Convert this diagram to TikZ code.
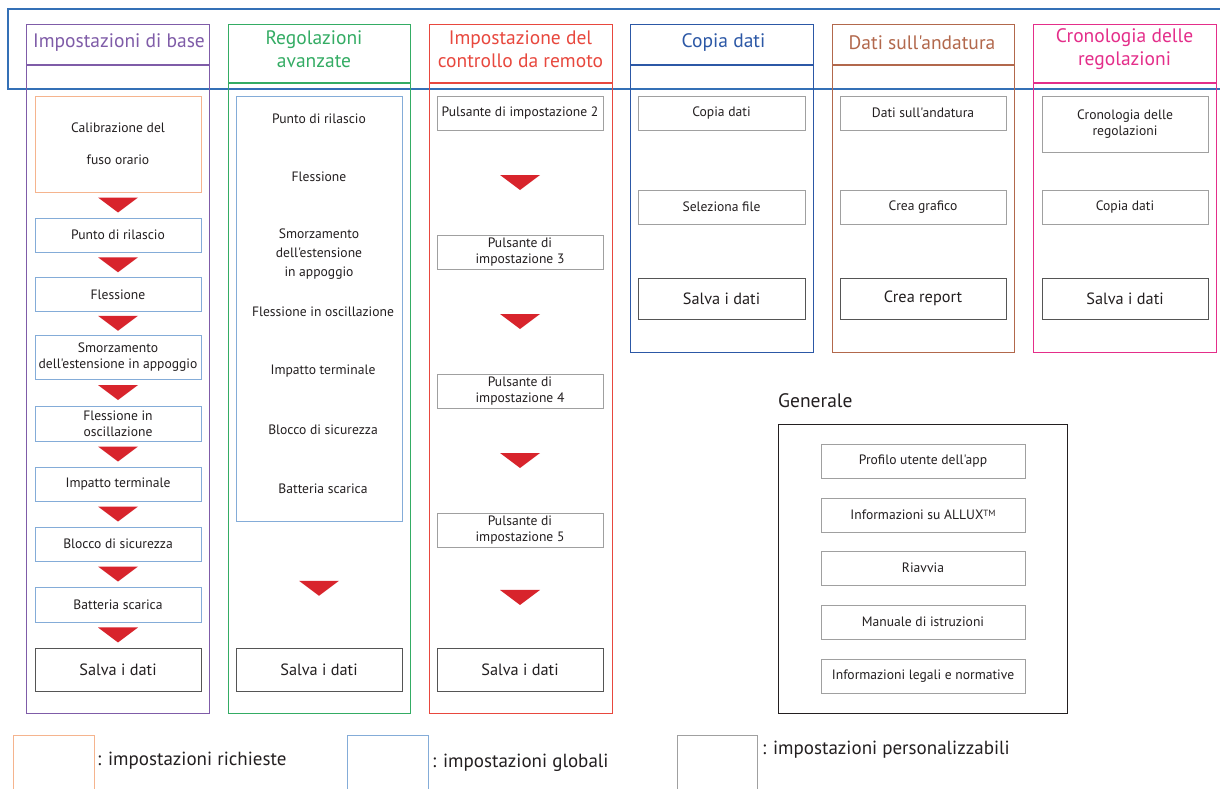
\documentclass[tikz,border=0pt]{standalone}
\usepackage{fontspec}
\setmainfont{PT Sans}[Ligatures=TeXOff]
\usetikzlibrary{calc}
\definecolor{cpurple}{RGB}{127,92,168}
\definecolor{cgreen}{RGB}{52,172,100}
\definecolor{cred}{RGB}{232,72,62}
\definecolor{cdblue}{RGB}{44,88,166}
\definecolor{cbrown}{RGB}{178,104,76}
\definecolor{cmag}{RGB}{228,46,138}
\definecolor{ctop}{RGB}{52,112,182}
\definecolor{corange}{RGB}{245,180,142}
\definecolor{clblue}{RGB}{132,172,216}
\definecolor{cgray}{RGB}{160,160,160}
\definecolor{cdark}{RGB}{85,85,85}
\definecolor{carrow}{RGB}{216,36,44}
\definecolor{ctext}{RGB}{35,31,32}
\tikzset{
  col/.style={draw=#1, line width=1.3pt, anchor=north west, inner sep=0pt},
  ttl/.style={text=#1, align=center, font=\fontsize{19.5}{23}\selectfont},
  ibox/.style={draw=#1, line width=0.9pt, inner sep=0pt, align=center, text=ctext,
     minimum width=166pt, minimum height=34pt, font=\fontsize{13.6}{16}\selectfont},
  sbox/.style={draw=cdark, line width=1pt, inner sep=0pt, align=center, text=ctext,
     minimum width=166pt, minimum height=43pt, font=\fontsize{16.3}{20}\selectfont},
  itxt/.style={align=center, text=ctext, font=\fontsize{13.6}{19}\selectfont},
  legtxt/.style={anchor=west, text=ctext, font=\fontsize{19}{22}\selectfont},
  downtri/.pic={\fill[carrow] (-20,-7.5) -- (20,-7.5) -- (0,7.5) -- cycle;}
}
\begin{document}
\begin{tikzpicture}[x=1pt,y=-1pt]
\useasboundingbox (0,0) rectangle (1220,789);
\fill[white] (0,0) rectangle (1220,789);
% top band
\draw[ctop, line width=1.2pt] (8,9) rectangle (1240,89);
% columns
\node[col=cpurple, minimum width=183pt, minimum height=689pt] (c1) at (26,24) {};
\node[col=cgreen,  minimum width=182pt, minimum height=689pt] (c2) at (228,24) {};
\node[col=cred,    minimum width=183pt, minimum height=689pt] (c3) at (429,24) {};
\node[col=cdblue,  minimum width=183pt, minimum height=328pt] (c4) at (630,24) {};
\node[col=cbrown,  minimum width=182pt, minimum height=328pt] (c5) at (832,24) {};
\node[col=cmag,    minimum width=183pt, minimum height=328pt] (c6) at (1033,24) {};
\draw[cpurple, line width=1.3pt] (c1.west |- 0,65) -- (c1.east |- 0,65);
\draw[cgreen, line width=1.3pt] (c2.west |- 0,83) -- (c2.east |- 0,83);
\draw[cred, line width=1.3pt] (c3.west |- 0,83) -- (c3.east |- 0,83);
\draw[cdblue, line width=1.3pt] (c4.west |- 0,65) -- (c4.east |- 0,65);
\draw[cbrown, line width=1.3pt] (c5.west |- 0,65) -- (c5.east |- 0,65);
\draw[cmag, line width=1.3pt] (c6.west |- 0,83) -- (c6.east |- 0,83);
% titles
\node[ttl=cpurple] (t1) at (119,43) {Impostazioni di base};
\node[ttl=cgreen] (t2) at (314,49.5) {Regolazioni\\avanzate};
\node[ttl=cred] (t3) at (520.5,49.5) {Impostazione del\\controllo da remoto};
\node[ttl=cdblue] (t4) at (723.5,43) {Copia dati};
\node[ttl=cbrown] (t5) at (922,43) {Dati sull'andatura};
\node[ttl=cmag] (t6) at (1124.5,49.5) {Cronologia delle\\regolazioni};
% column 1
\node[ibox=corange, minimum height=96pt, font=\fontsize{13.6}{32}\selectfont] (a0) at (118,144) {Calibrazione del\\fuso orario};
\node[ibox=clblue] (a1) at (118,235) {Punto di rilascio};
\node[ibox=clblue] (a2) at (118,294.5) {Flessione};
\node[ibox=clblue, minimum height=44pt] (a3) at (118,357) {Smorzamento\\dell'estensione in appoggio};
\node[ibox=clblue, minimum height=35pt] (a4) at (118,423.5) {Flessione in\\oscillazione};
\node[ibox=clblue] (a5) at (118,484) {Impatto terminale};
\node[ibox=clblue] (a6) at (118,544) {Blocco di sicurezza};
\node[ibox=clblue, minimum height=35pt] (a7) at (118,604.5) {Batteria scarica};
\node[sbox] (a8) at (118,669.5) {Salva i dati};
\foreach \u/\v in {a0/a1,a1/a2,a2/a3,a3/a4,a4/a5,a5/a6,a6/a7,a7/a8}
  \pic at ($(\u.south)!0.5!(\v.north)$) {downtri};
% column 2
\node[draw=clblue, line width=0.9pt, minimum width=166pt, minimum height=425pt, inner sep=0pt] (b0) at (319,308.5) {};
\node[itxt] (b1) at (319,119) {Punto di rilascio};
\node[itxt] (b2) at (319,177) {Flessione};
\node[itxt] (b3) at (319,254) {Smorzamento\\dell'estensione\\in appoggio};
\node[itxt] (b4) at (323,312) {Flessione in oscillazione};
\node[itxt] (b5) at (323,371) {Impatto terminale};
\node[itxt] (b6) at (323,430) {Blocco di sicurezza};
\node[itxt] (b7) at (323,489) {Batteria scarica};
\node[sbox] (b8) at (319,669.5) {Salva i dati};
\pic at ($(b0.south)!0.53!(b8.north)$) {downtri};
% column 3
\node[ibox=cgray] (r2) at (520,113) {Pulsante di impostazione 2};
\node[ibox=cgray] (r3) at (520,252) {Pulsante di\\impostazione 3};
\node[ibox=cgray] (r4) at (520,391) {Pulsante di\\impostazione 4};
\node[ibox=cgray] (r5) at (520,530) {Pulsante di\\impostazione 5};
\node[sbox] (r6) at (520,669.5) {Salva i dati};
\foreach \u/\v in {r2/r3,r3/r4,r4/r5,r5/r6}
  \pic at ($(\u.south)!0.5!(\v.north)$) {downtri};
% column 4
\node[ibox=cgray, minimum width=167pt] (d1) at (721.5,113) {Copia dati};
\node[ibox=cgray, minimum width=167pt] (d2) at (721.5,207) {Seleziona file};
\node[sbox, minimum width=167pt, minimum height=41pt] (d3) at (721.5,298.5) {Salva i dati};
% column 5
\node[ibox=cgray] (e1) at (923,113) {Dati sull'andatura};
\node[ibox=cgray] (e2) at (923,207) {Crea grafico};
\node[sbox, minimum height=41pt] (e3) at (923,298.5) {Crea report};
% column 6
\node[ibox=cgray, minimum height=56pt] (f1) at (1125,124) {Cronologia delle\\regolazioni};
\node[ibox=cgray] (f2) at (1125,207) {Copia dati};
\node[sbox, minimum height=41pt] (f3) at (1125,298.5) {Salva i dati};
% Generale
\node[anchor=west, text=ctext, font=\fontsize{19.5}{22}\selectfont, inner sep=0pt] (glab) at (778,401) {Generale};
\node[draw=ctext, line width=1.1pt, anchor=north west, minimum width=289pt, minimum height=289pt, inner sep=0pt] (gbox) at (778,424) {};
\node[ibox=cgray, minimum width=204pt] (g1) at (923,461) {Profilo utente dell'app};
\node[ibox=cgray, minimum width=204pt] (g2) at (923,515) {Informazioni su ALLUX{\fontsize{9}{9}\selectfont\raisebox{3.5pt}{TM}}};
\node[ibox=cgray, minimum width=204pt] (g3) at (923,568) {Riavvia};
\node[ibox=cgray, minimum width=204pt] (g4) at (923,622) {Manuale di istruzioni};
\node[ibox=cgray, minimum width=204pt] (g5) at (923,676) {Informazioni legali e normative};
% legend
\node[draw=corange, line width=0.9pt, anchor=north west, minimum width=81pt, minimum height=70pt, inner sep=0pt] (l1) at (13,735) {};
\node[draw=clblue, line width=0.9pt, anchor=north west, minimum width=81pt, minimum height=70pt, inner sep=0pt] (l2) at (347,735) {};
\node[draw=cgray, line width=0.9pt, anchor=north west, minimum width=80pt, minimum height=70pt, inner sep=0pt] (l3) at (677,735) {};
\node[legtxt, inner sep=0pt] (lt1) at (97,761) {: impostazioni richieste};
\node[legtxt, inner sep=0pt] (lt2) at (432,763) {: impostazioni globali};
\node[legtxt, inner sep=0pt] (lt3) at (762,750) {: impostazioni personalizzabili};
\end{tikzpicture}
\end{document}
